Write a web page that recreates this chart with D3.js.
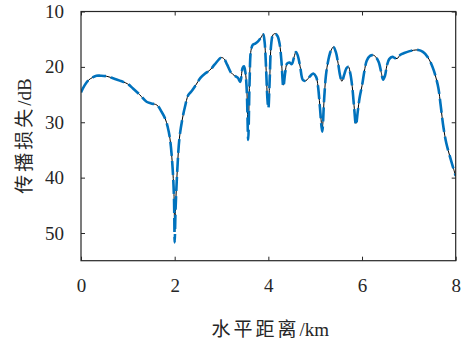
<!DOCTYPE html>
<html><head><meta charset="utf-8">
<script src="https://cdn.jsdelivr.net/npm/d3@7"></script>
<style>body{margin:0;background:#fff}svg{display:block}</style>
</head><body>
<svg id="chart" width="466" height="340"></svg>
<script>
// distance (km)
const distance = [0.00,0.08,0.16,0.25,0.33,0.42,0.55,0.70,0.90,1.00,1.11,1.25,1.40,1.50,1.62,1.72,1.80,1.85,1.90,1.95,1.985,2.00,2.02,2.06,2.10,2.16,2.22,2.29,2.36,2.45,2.55,2.65,2.75,2.85,2.95,3.00,3.06,3.12,3.20,3.28,3.35,3.40,3.45,3.48,3.51,3.54,3.57,3.60,3.63,3.67,3.72,3.78,3.85,3.89,3.92,3.95,3.98,4.00,4.03,4.06,4.10,4.15,4.20,4.24,4.28,4.32,4.36,4.40,4.45,4.50,4.55,4.59,4.63,4.68,4.74,4.80,4.85,4.91,4.96,5.02,5.06,5.10,5.15,5.19,5.23,5.28,5.33,5.39,5.44,5.49,5.53,5.57,5.62,5.67,5.71,5.75,5.79,5.83,5.87,5.91,5.95,6.00,6.05,6.10,6.17,6.25,6.31,6.36,6.41,6.45,6.49,6.53,6.58,6.65,6.70,6.75,6.82,6.90,7.00,7.10,7.20,7.30,7.40,7.47,7.53,7.58,7.63,7.68,7.74,7.80,7.88,7.95,8.00];
// transmission loss (dB), black solid series
const lossBlack = [24.6,23.3,22.4,21.9,21.6,21.6,21.7,22.1,22.7,23.1,23.9,25.0,26.3,26.6,26.9,28.1,29.4,30.8,33.0,37.5,43.0,49.8,45.0,38.0,33.0,29.6,27.2,25.1,24.4,23.3,22.0,21.2,20.6,19.6,18.6,18.3,18.6,19.6,21.0,21.6,22.0,22.7,20.2,19.9,21.0,24.0,31.7,22.0,17.0,16.0,15.8,15.4,14.6,14.1,15.5,20.0,25.5,26.9,22.0,16.0,14.2,14.0,14.5,15.8,19.0,23.3,21.0,19.4,19.2,19.5,18.2,17.3,18.0,20.0,22.4,22.5,22.1,21.5,21.2,21.8,23.5,27.0,31.0,26.0,21.5,18.8,17.2,16.4,17.3,19.4,21.5,22.6,21.4,20.2,20.0,21.2,23.5,27.0,30.2,28.0,25.5,23.4,20.8,18.9,18.0,17.9,18.4,19.2,21.0,22.3,21.6,19.8,18.6,18.2,18.4,18.5,17.8,17.5,17.2,17.0,16.95,17.3,18.2,19.3,20.6,22.0,23.8,27.0,31.0,33.8,36.3,38.3,39.7];
// transmission loss (dB), blue dashed series
const lossBlue = [24.6,23.3,22.4,21.9,21.6,21.6,21.7,22.1,22.7,23.1,23.9,25.0,26.3,26.6,26.9,28.1,29.4,30.8,33.0,37.5,43.5,51.7,45.5,38.0,33.0,29.6,27.2,25.1,24.4,23.3,22.0,21.2,20.6,19.6,18.6,18.3,18.6,19.6,21.0,21.6,22.0,22.7,20.2,19.9,21.0,24.5,33.2,22.5,17.0,16.0,15.8,15.4,14.6,14.1,15.5,20.0,25.8,27.5,22.0,16.0,14.2,14.0,14.5,15.8,19.0,23.6,21.0,19.4,19.2,19.5,18.2,17.3,18.0,20.0,22.4,22.5,22.1,21.5,21.2,21.8,23.5,27.2,31.7,26.0,21.5,18.8,17.2,16.4,17.3,19.4,21.5,22.6,21.4,20.2,20.0,21.2,23.5,27.2,30.5,28.0,25.5,23.4,20.8,18.9,18.0,17.9,18.4,19.2,21.0,22.3,21.6,19.8,18.6,18.2,18.4,18.5,17.8,17.5,17.2,17.0,16.95,17.3,18.2,19.3,20.6,22.0,23.8,27.0,31.0,33.8,36.3,38.3,39.7];
const xTicks = [0,2,4,6,8];
const yTicks = [10,20,30,40,50];
const xTitle = ["水平距离", "/km"];
const yTitle = ["传播损失", "/dB"];

const W = 466, H = 340;
const m = {left: 81, top: 11.5, right: 10.3, bottom: 79.3};
const svg = d3.select("#chart");
const x = d3.scaleLinear().domain([0, 8]).range([m.left, W - m.right]);
const y = d3.scaleLinear().domain([10, 55]).range([m.top, H - m.bottom]);
const axisColor = "#262626";
const numFont = "'Liberation Serif','Noto Sans CJK SC',serif";

const line = d3.line().x(d => x(d[0])).y(d => y(d[1])).curve(d3.curveCatmullRom.alpha(0.5));
const black = distance.map((d, i) => [d, lossBlack[i]]);
const blue = distance.map((d, i) => [d, lossBlue[i]]);

svg.append("clipPath").attr("id", "clip").append("rect")
  .attr("x", m.left).attr("y", m.top).attr("width", W - m.left - m.right).attr("height", H - m.top - m.bottom);

const g = svg.append("g").attr("clip-path", "url(#clip)");
g.append("path").datum(black).attr("d", line).attr("fill", "none").attr("stroke", "#000").attr("stroke-width", 1);
g.append("path").datum(blue).attr("d", line).attr("fill", "none").attr("stroke", "#0072BD")
  .attr("stroke-width", 2.6).attr("stroke-dasharray", "14,5");

function styleAxis(sel) {
  sel.select(".domain").remove();
  sel.selectAll(".tick line").attr("stroke", axisColor);
  sel.selectAll(".tick text").attr("fill", axisColor).style("font-family", numFont).style("font-size", "19px");
}
svg.append("g").attr("transform", `translate(0,${H - m.bottom})`)
  .call(d3.axisBottom(x).tickValues(xTicks).tickSizeInner(-4).tickSizeOuter(0).tickPadding(18).tickFormat(d3.format("d")))
  .call(styleAxis);
svg.append("g").attr("transform", `translate(0,${m.top})`)
  .call(d3.axisTop(x).tickValues(xTicks).tickSizeInner(-4).tickSizeOuter(0).tickFormat(""))
  .call(styleAxis);
svg.append("g").attr("transform", `translate(${m.left},0)`)
  .call(d3.axisLeft(y).tickValues(yTicks).tickSizeInner(-4).tickSizeOuter(0).tickPadding(17).tickFormat(d3.format("d")))
  .call(styleAxis);
svg.append("g").attr("transform", `translate(${W - m.right},0)`)
  .call(d3.axisRight(y).tickValues(yTicks).tickSizeInner(-4).tickSizeOuter(0).tickFormat(""))
  .call(styleAxis);

svg.append("rect").attr("x", m.left).attr("y", m.top).attr("width", W - m.left - m.right).attr("height", H - m.top - m.bottom)
  .attr("fill", "none").attr("stroke", axisColor).attr("stroke-width", 1.2);

function title(sel, parts) {
  sel.attr("text-anchor", "middle").attr("fill", axisColor)
    .style("font-family", numFont).style("font-size", "19px");
  sel.append("tspan").style("letter-spacing", "3px").text(parts[0]);
  sel.append("tspan").text(parts[1]);
}
svg.append("text").attr("x", (m.left + W - m.right) / 2 + 2).attr("y", 336).call(title, xTitle);
svg.append("text").attr("transform", `translate(31,${(m.top + H - m.bottom) / 2}) rotate(-90)`).call(title, yTitle);
</script>
</body></html>
